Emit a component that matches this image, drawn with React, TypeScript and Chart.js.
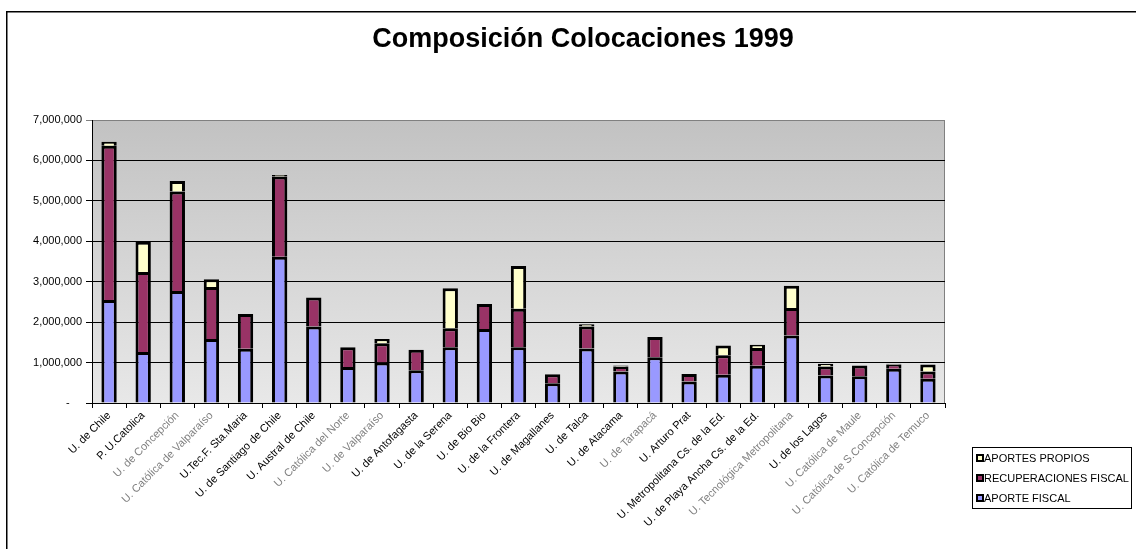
import React, { useEffect, useRef } from "react";
import { Chart, registerables } from "chart.js";

Chart.register(...registerables);

const titleText = "Composición Colocaciones 1999";

const categories = [
  "U. de Chile",
  "P. U.Catolica",
  "U. de Concepción",
  "U. Católica de Valparaíso",
  "U.Tec.F. Sta.Maria",
  "U. de Santiago de Chile",
  "U. Austral de Chile",
  "U. Católica del Norte",
  "U. de Valparaíso",
  "U. de Antofagasta",
  "U. de la Serena",
  "U. de Bio Bio",
  "U. de la Frontera",
  "U. de Magallanes",
  "U. de Talca",
  "U. de Atacama",
  "U. de Tarapacá",
  "U. Arturo Prat",
  "U. Metropolitana Cs. de la Ed.",
  "U. de Playa Ancha Cs. de la Ed.",
  "U. Tecnológica Metropolitana",
  "U. de los Lagos",
  "U. Católica de Maule",
  "U. Católica de S.Concepción",
  "U. Católica de Temuco",
];

// which category labels are drawn in gray in the original
const grayLabels = [false, false, true, true, false, false, false, true, true, false, false, false, false, false, false, false, true, false, false, false, true, false, true, true, true];

const aporteFiscal = [
  2550000, 1260000, 2770000, 1580000, 1340000, 3620000, 1890000, 890000, 1000000, 810000,
  1380000, 1830000, 1380000, 490000, 1350000, 780000, 1130000, 530000, 700000, 920000,
  1670000, 680000, 660000, 850000, 600000,
];

const recuperacionesFiscal = [
  3810000, 1980000, 2460000, 1290000, 860000, 1980000, 720000, 490000, 480000, 510000,
  470000, 620000, 950000, 220000, 540000, 120000, 500000, 190000, 480000, 440000,
  680000, 220000, 270000, 100000, 180000,
];

const aportesPropios = [
  100000, 750000, 260000, 190000, null, 40000, null, null, 100000, null,
  990000, null, 1060000, null, 60000, 30000, null, null, 240000, 80000,
  550000, 70000, null, 20000, 170000,
];

const seriesLabels = ["APORTE FISCAL", "RECUPERACIONES FISCAL", "APORTES PROPIOS"];
const seriesColors = ["#9999FF", "#993366", "#FFFFCC"];

const yMax = 7000000;
const yStep = 1000000;

const FONT = '"Liberation Sans", Arial, sans-serif';

const decorPlugin = {
  id: "decor",
  beforeDraw(chart: any) {
    const { ctx, chartArea } = chart;
    const { left, top, right, bottom } = chartArea;
    ctx.save();
    // plot background gradient
    const g = ctx.createLinearGradient(0, top, 0, bottom);
    g.addColorStop(0, "#c2c2c2");
    g.addColorStop(1, "#e8e8e8");
    ctx.fillStyle = g;
    ctx.fillRect(left, top, right - left, bottom - top);
    ctx.strokeStyle = "#808080";
    ctx.lineWidth = 1;
    ctx.beginPath();
    ctx.moveTo(left, top + 0.5);
    ctx.lineTo(right - 0.5, top + 0.5);
    ctx.lineTo(right - 0.5, bottom);
    ctx.stroke();
    // outer frame (left + top)
    ctx.fillStyle = "#000";
    ctx.fillRect(6, 11, 1.5, 549 - 11);
    ctx.fillRect(6, 11, 1136 - 6, 1.5);
    // title
    ctx.fillStyle = "#000";
    ctx.font = `bold 27px ${FONT}`;
    ctx.textAlign = "center";
    ctx.textBaseline = "alphabetic";
    ctx.fillText(titleText, 583, 47);
    ctx.restore();
  },
  afterDraw(chart: any) {
    const { ctx } = chart;
    ctx.save();
    // legend box
    ctx.fillStyle = "#fff";
    ctx.fillRect(972, 447, 160, 62);
    ctx.strokeStyle = "#000";
    ctx.lineWidth = 1;
    ctx.strokeRect(972.5, 447.5, 159, 61);
    const order = [2, 1, 0];
    const ys = [458, 478, 498];
    ctx.font = `11px ${FONT}`;
    ctx.textAlign = "left";
    ctx.textBaseline = "middle";
    order.forEach((di, i) => {
      const yc = ys[i];
      ctx.fillStyle = "#000";
      ctx.fillRect(976, yc - 4, 8, 8);
      ctx.fillStyle = seriesColors[di];
      ctx.fillRect(978, yc - 2, 4, 4);
      ctx.fillStyle = "#000";
      ctx.fillText(seriesLabels[di], 984, yc + 0.5);
    });
    ctx.restore();
  },
};

export default function App() {
  const canvasRef = useRef<HTMLCanvasElement | null>(null);

  useEffect(() => {
    if (!canvasRef.current) return;
    const data = [aporteFiscal, recuperacionesFiscal, aportesPropios];
    const chart = new Chart(canvasRef.current, {
      type: "bar",
      data: {
        labels: categories,
        datasets: data.map((d, i) => ({
          label: seriesLabels[i],
          data: d as any,
          backgroundColor: seriesColors[i],
          borderColor: "#000",
          borderWidth: 3,
          barPercentage: 1,
          categoryPercentage: 0.45,
        })),
      },
      options: {
        responsive: false,
        animation: false,
        layout: { padding: { left: 0, top: 120, right: 191, bottom: 0 } },
        plugins: {
          legend: { display: false },
          title: { display: false },
          tooltip: { enabled: false },
        },
        scales: {
          x: {
            stacked: true,
            afterFit(scale: any) {
              scale.height = 549 - 403;
            },
            border: { display: true, color: "#000", width: 1 },
            grid: {
              offset: true,
              drawOnChartArea: false,
              drawTicks: true,
              tickLength: 5,
              color: "#000",
            },
            ticks: {
              autoSkip: false,
              maxRotation: 45,
              minRotation: 45,
              padding: 1,
              font: { family: FONT, size: 11 },
              color: (ctx: any) => (grayLabels[ctx.index] ? "#808080" : "#000"),
            },
          },
          y: {
            stacked: true,
            min: 0,
            max: yMax,
            afterFit(scale: any) {
              scale.width = 92;
            },
            border: { display: true, color: "#000", width: 1 },
            grid: {
              color: (ctx: any) => (ctx.tick && ctx.tick.value === yMax ? "#808080" : "#000"),
              tickLength: 6,
              lineWidth: 1,
            },
            ticks: {
              stepSize: yStep,
              padding: 4,
              color: "#000",
              font: { family: FONT, size: 11 },
              callback: (v: any) => (Number(v) === 0 ? "-    " : Number(v).toLocaleString("en-US")),
            },
          },
        },
      },
      plugins: [decorPlugin],
    });
    return () => chart.destroy();
  }, []);

  return (
    <div style={{ position: "absolute", left: 0, top: 0, width: 1136, height: 549, background: "#fff" }}>
      <canvas ref={canvasRef} width={1136} height={549} style={{ display: "block" }} />
    </div>
  );
}
